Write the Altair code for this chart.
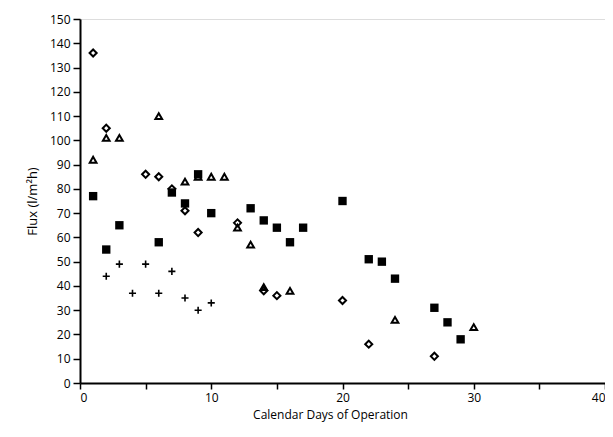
import altair as alt
import pandas as pd

# Series (Calendar day, Flux)
diamond_x = [1, 2, 5, 6, 7, 8, 9, 12, 14, 15, 20, 22, 27]
diamond_y = [136, 105, 86, 85, 80, 71, 62, 66, 38, 36, 34, 16, 11]

triangle_x = [1, 2, 3, 6, 8, 9, 10, 11, 12, 13, 14, 16, 24, 30]
triangle_y = [92, 101, 101, 110, 83, 85, 85, 85, 64, 57, 39.5, 38, 26, 23]

square_x = [1, 2, 3, 6, 7, 8, 9, 10, 13, 14, 15, 16, 17, 20, 22, 23, 24, 27, 28, 29]
square_y = [77, 55, 65, 58, 78.5, 74, 86, 70, 72, 67, 64, 58, 64, 75, 51, 50, 43, 31, 25, 18]

plus_x = [2, 3, 4, 5, 6, 7, 8, 9, 10]
plus_y = [44, 49, 37, 49, 37, 46, 35, 30, 33]

x_ticks = [0, 5, 10, 15, 20, 25, 30, 35, 40]
y_ticks = list(range(0, 151, 10))

def frame(xs, ys):
    return pd.DataFrame({"day": xs, "flux": ys})

FONT = "Open Sans"

xs = alt.X("day:Q", scale=alt.Scale(domain=[0, 40], nice=False, zero=False),
           axis=alt.Axis(values=x_ticks, title="Calendar Days of Operation",
                         labelExpr="datum.value % 10 == 0 ? datum.label : ''",
                         grid=False, tickSize=6, tickColor="black", domainColor="black",
                         domainWidth=2, tickWidth=1.5, labelFont=FONT, labelFontSize=12,
                         labelColor="black", titleFont=FONT, titleFontSize=12,
                         titleFontWeight="normal", titleColor="black", labelPadding=3,
                         titlePadding=6, titleX=250))
ys = alt.Y("flux:Q", scale=alt.Scale(domain=[0, 150], nice=False),
           axis=alt.Axis(values=y_ticks, title="Flux (l/m²h)", grid=False, tickSize=7,
                         tickColor="black", domainColor="black", domainWidth=2, tickWidth=1.5,
                         labelFont=FONT, labelFontSize=12, labelColor="black",
                         titleFont=FONT, titleFontSize=13, titleFontWeight="normal",
                         titleColor="black", labelPadding=3, titlePadding=10))

diam = alt.Chart(frame(diamond_x, diamond_y)).mark_point(
    shape="diamond", filled=False, color="black", size=50, strokeWidth=2, opacity=1
).encode(x=xs, y=ys)

tri = alt.Chart(frame(triangle_x, triangle_y)).mark_point(
    shape="triangle-up", filled=False, color="black", size=45, strokeWidth=2, opacity=1
).encode(x=xs, y=ys)

sq = alt.Chart(frame(square_x, square_y)).mark_point(
    shape="square", filled=True, color="black", size=70, opacity=1
).encode(x=xs, y=ys)

pl = alt.Chart(frame(plus_x, plus_y)).mark_point(
    shape="M-1,0H1M0,-1V1", filled=False, color="black", size=50, strokeWidth=1.6, opacity=1
).encode(x=xs, y=ys)

chart = alt.layer(diam, tri, sq, pl).properties(
    width=525, height=364,
    padding={"left": 72, "top": 11, "right": 0, "bottom": 42},
    autosize="none",
).configure_view(stroke="black", strokeWidth=1.5).configure(background="white")

chart.save("out.html", embed_options={"renderer": "svg", "actions": False})
